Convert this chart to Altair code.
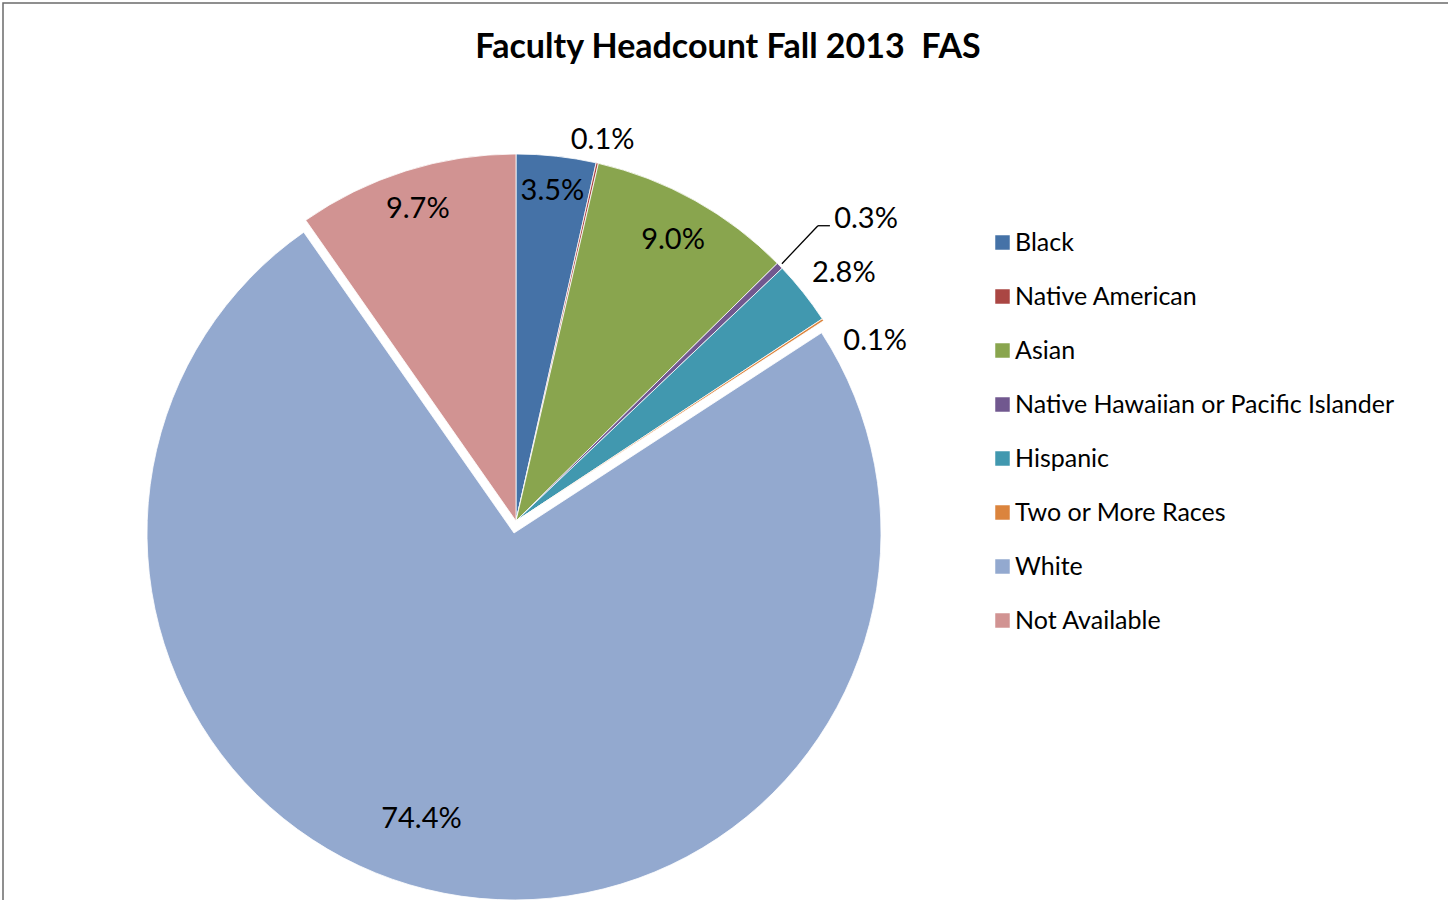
import math
import altair as alt
import pandas as pd

title_text = "Faculty Headcount Fall 2013\u00a0 FAS"
categories = ["Black", "Native American", "Asian", "Native Hawaiian or Pacific Islander",
              "Hispanic", "Two or More Races", "White", "Not Available"]
values = [3.5, 0.1, 9.0, 0.3, 2.8, 0.1, 74.4, 9.7]
colors = ["#4572A7", "#AA4643", "#89A54E", "#71588F", "#4198AF", "#DB843D", "#93A9CF", "#D19392"]

df = pd.DataFrame({"category": categories, "value": values, "order": list(range(len(categories)))})

FONT = "Lato"
CX, CY = 516, 521
R = 367
EXPLODE_X, EXPLODE_Y = 514, 533

theta_scale = alt.Scale(domain=[0, 1], range=[0, 2 * math.pi])
color_scale = alt.Scale(domain=categories, range=colors)

base = (
    alt.Chart(df)
    .transform_joinaggregate(total="sum(value)")
    .transform_window(cum="sum(value)", sort=[alt.SortField("order")], frame=[None, 0])
    .transform_calculate(
        end="datum.cum / datum.total",
        start="(datum.cum - datum.value) / datum.total",
        mid="(2 * datum.cum - datum.value) / (2 * datum.total)",
        label="format(datum.value, '.1f') + '%'",
    )
)

legend = alt.Legend(
    title=None, orient="none", legendX=990, legendY=230,
    symbolType="square", symbolSize=210, symbolStrokeWidth=0,
    labelFont=FONT, labelFontSize=25, labelColor="#000000", labelLimit=0,
    rowPadding=28, labelOffset=0,
)

arcs = base.transform_filter("datum.category != 'White'").mark_arc(
    radius=R, stroke="white", strokeWidth=0.8
).encode(
    theta=alt.Theta("start:Q", scale=theta_scale),
    theta2="end:Q",
    color=alt.Color("category:N", scale=color_scale, legend=legend),
    x=alt.value(CX), y=alt.value(CY),
)

white_arc = base.transform_filter("datum.category == 'White'").mark_arc(
    radius=R, stroke="white", strokeWidth=0.8
).encode(
    theta=alt.Theta("start:Q", scale=theta_scale),
    theta2="end:Q",
    color=alt.Color("category:N", scale=color_scale, legend=legend),
    x=alt.value(EXPLODE_X), y=alt.value(EXPLODE_Y),
)


def label_layer(names, radius, dx=0, dy=0):
    cond = " || ".join("datum.category == '%s'" % n for n in names)
    return base.transform_filter(cond).mark_text(
        radius=radius, dx=dx, dy=dy, font=FONT, fontSize=29, color="#000000",
        align="center", baseline="middle",
    ).encode(
        theta=alt.Theta("mid:Q", scale=theta_scale),
        text="label:N",
        x=alt.value(CX), y=alt.value(CY),
    )


labels = [
    label_layer(["Black"], 332),
    label_layer(["Asian"], 322),
    label_layer(["Not Available"], 327),
    label_layer(["Native American"], 391),
    label_layer(["White"], 312, -35, -8),
    label_layer(["Native Hawaiian or Pacific Islander"], 462, 18, 19),
    label_layer(["Hispanic"], 411, 6, 8),
    label_layer(["Two or More Races"], 402, 23, 40),
]

leader_base = base.transform_filter(
    "datum.category == 'Native Hawaiian or Pacific Islander'"
).transform_calculate(
    x0="%f + %f * sin(datum.mid * 2 * PI)" % (CX, R + 3),
    y0="%f - %f * cos(datum.mid * 2 * PI)" % (CY, R + 3),
).transform_calculate(
    x1="datum.x0 + 36", y1="datum.y0 - 38",
).transform_calculate(
    x2="datum.x1 + 12",
)
leader1 = leader_base.mark_rule(color="#000000", strokeWidth=1.3).encode(
    x=alt.X("x0:Q", scale=None), y=alt.Y("y0:Q", scale=None),
    x2="x1:Q", y2="y1:Q",
)
leader2 = leader_base.mark_rule(color="#000000", strokeWidth=1.3).encode(
    x=alt.X("x1:Q", scale=None), y=alt.Y("y1:Q", scale=None),
    x2="x2:Q", y2="y1:Q",
)

title = alt.Chart(pd.DataFrame({"t": [title_text]})).mark_text(
    font=FONT, fontSize=34, fontWeight="bold", color="#000000",
    align="center", baseline="middle",
).encode(text="t:N", x=alt.value(728), y=alt.value(48))

border = alt.Chart(pd.DataFrame({"t": [0]})).mark_rect(
    fillOpacity=0, stroke="#6b6b6b", strokeWidth=1.5
).encode(x=alt.value(3), x2=alt.value(1470), y=alt.value(3), y2=alt.value(930))

chart = alt.layer(
    border, arcs, white_arc, *labels, leader1, leader2, title
).properties(
    width=1448, height=900, padding=0,
    autosize=alt.AutoSizeParams(type="none"),
).configure_view(stroke=None)

chart.save("out.html", embed_options={"renderer": "svg", "actions": False})
